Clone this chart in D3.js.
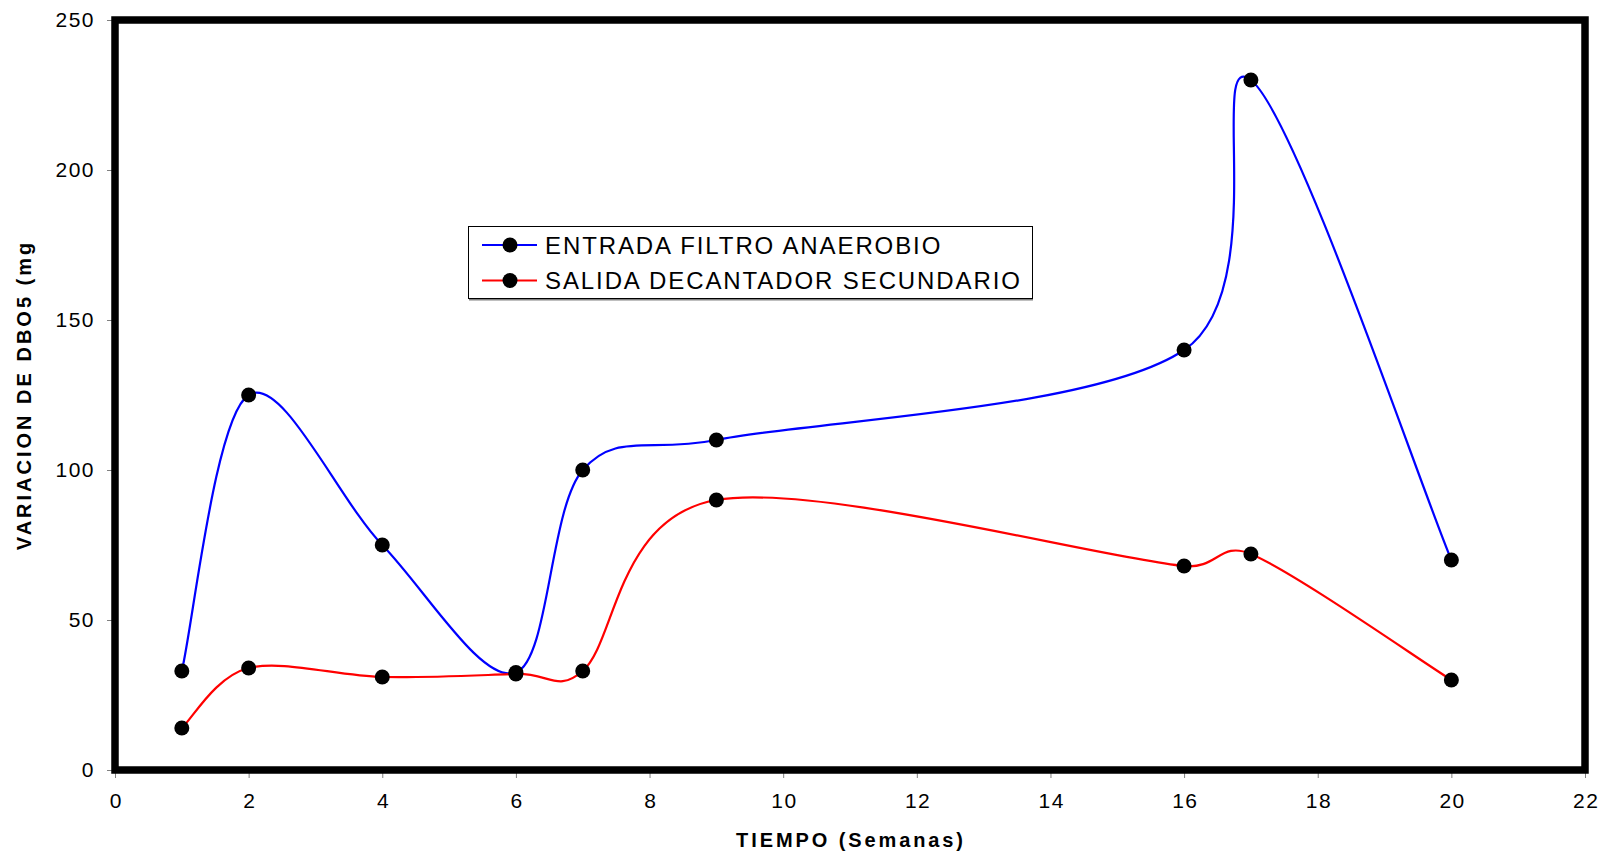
<!DOCTYPE html>
<html>
<head>
<meta charset="utf-8">
<script src="https://cdn.jsdelivr.net/npm/d3@7"></script>
<style>
  body { margin: 0; background: #fff; }
  svg { display: block; }
  text { font-family: "Liberation Sans", Arial, sans-serif; fill: #000; }
</style>
</head>
<body>
<svg id="chart" width="1612" height="858"></svg>
<script>
// Semanas de muestreo y DBO5 medida en cada punto
const weeks   = [1, 2, 4, 6, 7, 9, 16, 17, 20];
const entrada = [33, 125, 75, 32.5, 100, 110, 140, 230, 70];
const salida  = [14, 34, 31, 32, 33, 90, 68, 72, 30];

const seriesNames  = ["ENTRADA FILTRO ANAEROBIO", "SALIDA DECANTADOR SECUNDARIO"];
const seriesColors = ["#0000ff", "#ff0000"];

const xTicks = [0, 2, 4, 6, 8, 10, 12, 14, 16, 18, 20, 22];
const yTicks = [0, 50, 100, 150, 200, 250];

const xTitle = "TIEMPO (Semanas)";
const yTitle = "VARIACION DE DBO5 (mg";

const svg = d3.select("#chart");

const x = d3.scaleLinear().domain([0, 22]).range([115, 1585]);
const y = d3.scaleLinear().domain([0, 250]).range([770, 20]);

// Bezier smoothing in screen space: arms are 1/6 of the neighbour chord,
// limited to half the length of the segment they belong to.
function smoothPath(pts) {
  const p = d3.path();
  p.moveTo(pts[0][0], pts[0][1]);
  for (let i = 0; i < pts.length - 1; i++) {
    const p0 = pts[Math.max(i - 1, 0)], p1 = pts[i], p2 = pts[i + 1],
          p3 = pts[Math.min(i + 2, pts.length - 1)];
    const d12 = Math.hypot(p2[0] - p1[0], p2[1] - p1[1]);
    let ax = (p2[0] - p0[0]) / 6, ay = (p2[1] - p0[1]) / 6;
    let bx = (p3[0] - p1[0]) / 6, by = (p3[1] - p1[1]) / 6;
    const la = Math.hypot(ax, ay), lb = Math.hypot(bx, by);
    if (la > d12 / 2) { const s = d12 / 2 / la; ax *= s; ay *= s; }
    if (lb > d12 / 2) { const s = d12 / 2 / lb; bx *= s; by *= s; }
    p.bezierCurveTo(p1[0] + ax, p1[1] + ay, p2[0] - bx, p2[1] - by, p2[0], p2[1]);
  }
  return p.toString();
}

// Axes (ticks + labels); the frame is drawn separately
const xAxis = svg.append("g")
  .attr("transform", `translate(0,${y(0)})`)
  .call(d3.axisBottom(x).tickValues(xTicks).tickSize(8).tickPadding(15).tickFormat(d3.format("d")));
const yAxis = svg.append("g")
  .attr("transform", `translate(${x(0)},0)`)
  .call(d3.axisLeft(y).tickValues(yTicks).tickSize(8).tickPadding(12).tickFormat(d3.format("d")));

[xAxis, yAxis].forEach(g => {
  g.select(".domain").remove();
  g.selectAll(".tick line").attr("stroke", "#808080").attr("stroke-width", 1);
  g.selectAll(".tick text")
    .style("font-family", '"Liberation Sans", Arial, sans-serif')
    .style("font-size", "21px")
    .style("letter-spacing", "1.5px")
    .attr("fill", "#000");
});
xAxis.selectAll(".tick text").attr("dx", "0.75px");

// Plot frame
svg.append("rect")
  .attr("x", x(0)).attr("y", y(250))
  .attr("width", x(22) - x(0)).attr("height", y(0) - y(250))
  .attr("fill", "none").attr("stroke", "#000").attr("stroke-width", 7.5);

// Series lines and markers
const series = [entrada, salida];
series.forEach((vals, k) => {
  const pts = weeks.map((w, i) => [x(w), y(vals[i])]);
  svg.append("path")
    .attr("d", smoothPath(pts))
    .attr("fill", "none")
    .attr("stroke", seriesColors[k])
    .attr("stroke-width", 2.2);
});
series.forEach(vals => {
  svg.append("g").selectAll("circle")
    .data(weeks.map((w, i) => [w, vals[i]]))
    .join("circle")
    .attr("cx", d => x(d[0])).attr("cy", d => y(d[1]))
    .attr("r", 7.5).attr("fill", "#000");
});

// Legend
const legend = svg.append("g");
legend.append("line")
  .attr("x1", 469).attr("x2", 1033).attr("y1", 299.5).attr("y2", 299.5)
  .attr("stroke", "#808080").attr("stroke-width", 2);
legend.append("rect")
  .attr("x", 468.5).attr("y", 226.5).attr("width", 564).attr("height", 72)
  .attr("fill", "#fff").attr("stroke", "#000").attr("stroke-width", 1);
seriesNames.forEach((name, k) => {
  const cy = 245 + k * 35.5;
  legend.append("line")
    .attr("x1", 482).attr("x2", 537).attr("y1", cy).attr("y2", cy)
    .attr("stroke", seriesColors[k]).attr("stroke-width", 2.2);
  legend.append("circle").attr("cx", 510).attr("cy", cy).attr("r", 7.5).attr("fill", "#000");
  legend.append("text")
    .attr("x", 545).attr("y", cy + 8.5)
    .style("font-size", "24px").style("letter-spacing", "1.9px")
    .text(name);
});

// Axis titles
svg.append("text")
  .attr("x", 851).attr("y", 847)
  .attr("text-anchor", "middle")
  .style("font-size", "20px").style("font-weight", "bold").style("letter-spacing", "2.9px")
  .text(xTitle);

svg.append("text")
  .attr("transform", "translate(31,395) rotate(-90)")
  .attr("text-anchor", "middle")
  .style("font-size", "20px").style("font-weight", "bold").style("letter-spacing", "3px")
  .text(yTitle);
</script>
</body>
</html>
